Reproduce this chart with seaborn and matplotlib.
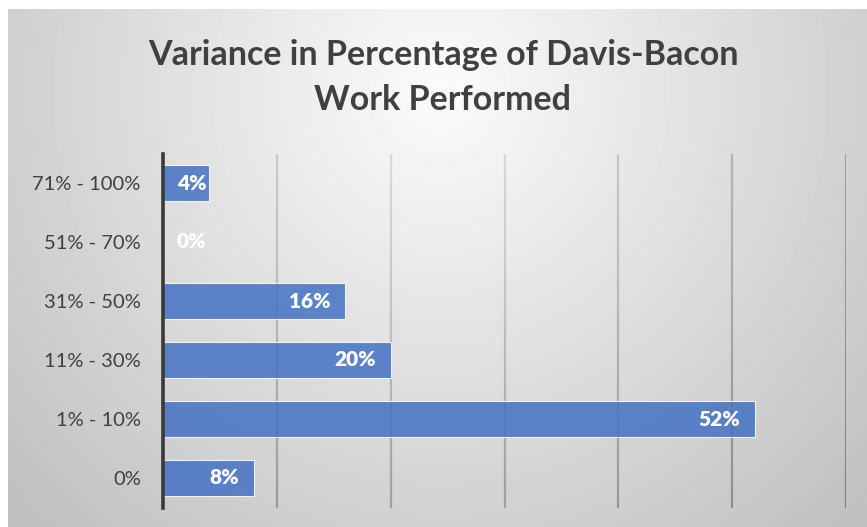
import numpy as np
import pandas as pd
import matplotlib
matplotlib.use("Agg")
import matplotlib.pyplot as plt
from matplotlib.collections import LineCollection
import seaborn as sns

categories = ["71% - 100%", "51% - 70%", "31% - 50%", "11% - 30%", "1% - 10%", "0%"]
shares = [4, 0, 16, 20, 52, 8]
x_ticks = [0, 10, 20, 30, 40, 50, 60]

df = pd.DataFrame({"range": categories, "share": shares})

sns.set_theme(style="white")
plt.rcParams["font.family"] = ["Lato", "DejaVu Sans"]

W, H = 867, 527
fig = plt.figure(figsize=(W / 100, H / 100), dpi=100)
fig.patch.set_facecolor("white")


def shade_at(px, py):
    """Grey level of the radial background at pixel (px, py), y measured from the top."""
    dx = (px - 440.0) / 430.0
    dy = (py - 90.0) / 440.0
    d = np.sqrt(dx ** 2 + dy ** 2)
    return np.clip(0.985 - 0.17 * d, 0.0, 1.0)


# soft radial grey background behind the chart area
x0, y0 = 8, 9
bg = fig.add_axes([x0 / W, 0, 1 - x0 / W, 1 - y0 / H], zorder=0)
py, px = np.mgrid[y0:H:1.0, x0:W:1.0]
bg.imshow(shade_at(px, py), cmap="gray", vmin=0, vmax=1, aspect="auto",
          extent=[0, 1, 1, 0], interpolation="bilinear")
bg.set_axis_off()

ax_l, ax_r, ax_t, ax_b = 163, 846, 153.5, 507.5
ax = fig.add_axes([ax_l / W, 1 - ax_b / H, (ax_r - ax_l) / W, (ax_b - ax_t) / H], zorder=1)
ax.patch.set_alpha(0)

sns.barplot(data=df, x="share", y="range", order=categories, orient="h",
            color="#4472C4", alpha=0.85, width=0.6, saturation=1,
            edgecolor="white", linewidth=0.8, ax=ax)

ax.set_xlim(0, 60)
ax.set_ylim(len(categories) - 0.5, -0.5)
ax.set_xticks(x_ticks)
ax.set_xticklabels([])
ax.tick_params(axis="x", length=0)
ax.tick_params(axis="y", length=0, pad=16, labelsize=14.5, labelcolor="#404040")
ax.set_xlabel("")
ax.set_ylabel("")
ax.grid(False)

# vertical gridlines, shaded darker where the background is darker
n_seg = 80
ys = np.linspace(-0.5, len(categories) - 0.5, n_seg + 1)
segs, cols = [], []
for xv in x_ticks[1:]:
    xpix = ax_l + (ax_r - ax_l) * xv / 60.0
    for a, b in zip(ys[:-1], ys[1:]):
        segs.append([(xv, a), (xv, b)])
        ypix = ax_t + (ax_b - ax_t) * ((a + b) / 2 + 0.5) / len(categories)
        g = float(np.clip(1.8 * shade_at(xpix, ypix) - 0.86, 0, 1))
        cols.append((g, g, g))
lc = LineCollection(segs, colors=cols, linewidths=1.6, zorder=0.5, capstyle="butt")
ax.add_collection(lc)

for side in ["top", "right", "bottom"]:
    ax.spines[side].set_visible(False)
ax.spines["left"].set_color("#3a3a3a")
ax.spines["left"].set_linewidth(2.6)
ax.spines["left"].set_zorder(5)

# value labels at the inner end of each bar
for i, v in enumerate(shares):
    xr = max(v - 1.3, 3.8)
    ax.text(xr, i, f"{v}%", ha="right", va="center", color="white",
            fontsize=15, fontweight="heavy", zorder=6)

title_kw = dict(ha="center", va="baseline", fontsize=24.5, fontweight="bold", color="#404040")
fig.text(443 / W, 1 - 65 / H, "Variance in Percentage of Davis-Bacon", **title_kw)
fig.text(443 / W, 1 - 110 / H, "Work Performed", **title_kw)

fig.savefig("out.png", dpi=100)
